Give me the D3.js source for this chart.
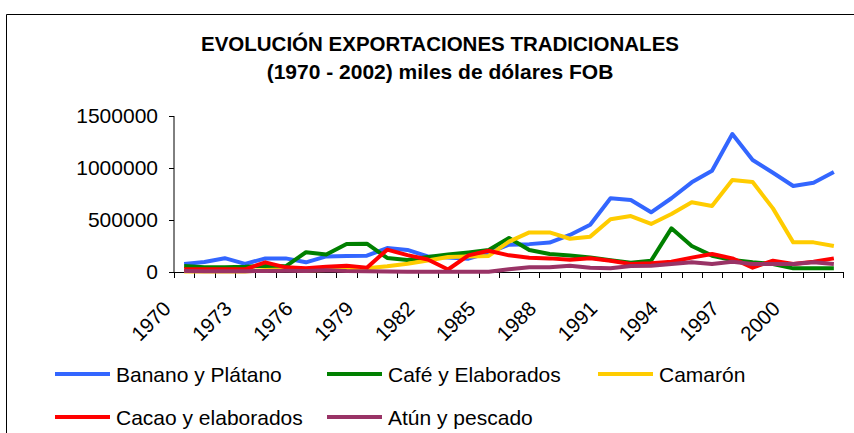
<!DOCTYPE html>
<html>
<head>
<meta charset="utf-8">
<script src="https://cdn.jsdelivr.net/npm/d3@7"></script>
<style>
  body { margin: 0; background: #fff; }
  svg { font-family: "Liberation Sans", Arial, sans-serif; }
  .axis path, .axis line { stroke: #000; }
</style>
</head>
<body>
<svg width="854" height="433"></svg>
<script>
const years = ['1970','1971','1972','1973','1974','1975','1976','1977','1978','1979','1980',
  '1981','1982','1983','1984','1985','1986','1987','1988','1989','1990','1991','1992',
  '1993','1994','1995','1996','1997','1998','1999','2000','2001','2002'];
const yearLabels = ['1970','1973','1976','1979','1982','1985','1988','1991','1994','1997','2000'];
const yTicks = [0, 500000, 1000000, 1500000];

// miles de dólares FOB
const banano = [77000,97000,133000,78000,131000,131000,93000,150000,155000,157000,230000,
  212000,150000,140000,128000,185000,263000,268000,283000,356000,455000,709000,692000,
  574000,709000,862000,974000,1327000,1077000,955000,827000,859000,962000];
const cafe = [58000,45000,45000,50000,60000,55000,190000,168000,270000,272000,135000,
  115000,145000,168000,188000,212000,326000,212000,173000,158000,140000,113000,90000,
  109000,420000,250000,157000,115000,93000,77000,35000,35000,35000];
const camaron = [5000,5000,5000,5000,20000,25000,15000,20000,26000,35000,55000,
  80000,110000,145000,150000,155000,292000,381000,381000,320000,340000,508000,538000,
  462000,558000,670000,635000,885000,865000,612000,285000,285000,250000];
const cacao = [26000,26000,26000,26000,93000,45000,35000,51000,61000,42000,215000,
  162000,120000,24000,160000,205000,160000,136000,131000,118000,133000,109000,77000,
  83000,99000,138000,173000,131000,42000,109000,77000,99000,131000];
const atun = [10000,8000,8000,8000,10000,12000,10000,18000,10000,8000,5000,
  3000,3000,3000,3000,3000,26000,45000,45000,61000,40000,35000,58000,
  61000,77000,93000,77000,99000,77000,77000,77000,93000,77000];

const seriesNames = ['Banano y Plátano', 'Café y Elaborados', 'Camarón', 'Cacao y elaborados', 'Atún y pescado'];
const seriesValues = [banano, cafe, camaron, cacao, atun];
const colors = ['#3366ff', '#008000', '#ffcc00', '#ff0000', '#993366'];

const PLOT = { left: 174, right: 844, top: 116, bottom: 272 };

const svg = d3.select('svg');

// borde del gráfico
svg.append('path')
  .attr('d', 'M6.5,433 V14.5 H854')
  .attr('fill', 'none')
  .attr('stroke', '#000');

svg.append('text')
  .attr('x', 440).attr('y', 51)
  .attr('text-anchor', 'middle')
  .attr('font-size', 20.5).attr('font-weight', 'bold')
  .text('EVOLUCIÓN EXPORTACIONES TRADICIONALES');

svg.append('text')
  .attr('x', 440).attr('y', 79)
  .attr('text-anchor', 'middle')
  .attr('font-size', 21).attr('font-weight', 'bold')
  .text('(1970 - 2002) miles de dólares FOB');

const x = d3.scaleBand().domain(years).range([PLOT.left, PLOT.right]);
const y = d3.scaleLinear().domain([0, 1500000]).range([PLOT.bottom, PLOT.top]);
const cx = d => x(d) + x.bandwidth() / 2;

const yAxis = d3.axisLeft(y)
  .tickValues(yTicks)
  .tickFormat(d3.format('d'))
  .tickSize(5)
  .tickPadding(11);

svg.append('g')
  .attr('class', 'y axis')
  .attr('transform', `translate(${PLOT.left},0)`)
  .call(yAxis)
  .call(g => g.selectAll('text').attr('font-size', 21).attr('fill', '#000'))
  .call(g => g.select('.domain').attr('d', `M0,${PLOT.top}V${PLOT.bottom}`));

// eje x: marcas entre categorías
const xg = svg.append('g').attr('class', 'x axis');
xg.append('line')
  .attr('x1', PLOT.left).attr('x2', PLOT.right)
  .attr('y1', PLOT.bottom + 0.5).attr('y2', PLOT.bottom + 0.5)
  .attr('stroke', '#000');
xg.selectAll('.tick')
  .data(years.concat(['end']))
  .join('line')
  .attr('class', 'tick')
  .attr('x1', d => d === 'end' ? PLOT.right - 0.5 : Math.round(x(d)) + 0.5)
  .attr('x2', d => d === 'end' ? PLOT.right - 0.5 : Math.round(x(d)) + 0.5)
  .attr('y1', PLOT.bottom)
  .attr('y2', PLOT.bottom + 6)
  .attr('stroke', '#666');

xg.selectAll('.lbl')
  .data(yearLabels)
  .join('text')
  .attr('class', 'lbl')
  .attr('text-anchor', 'end')
  .attr('font-size', 20.5)
  .attr('transform', d => `translate(${cx(d) - 12},${PLOT.bottom + 38}) rotate(-45)`)
  .text(d => d);

const line = d3.line()
  .x((v, i) => cx(years[i]))
  .y(v => y(v));

svg.append('g')
  .selectAll('path')
  .data(seriesValues)
  .join('path')
  .attr('d', d => line(d))
  .attr('fill', 'none')
  .attr('stroke', (d, i) => colors[i])
  .attr('stroke-width', 4)
  .attr('stroke-linejoin', 'round');

// leyenda
const legendPos = [
  { x: 55, y: 374 }, { x: 327, y: 374 }, { x: 598, y: 374 },
  { x: 55, y: 417 }, { x: 327, y: 417 }
];
const lg = svg.append('g').selectAll('g')
  .data(seriesNames)
  .join('g')
  .attr('transform', (d, i) => `translate(${legendPos[i].x},${legendPos[i].y})`);
lg.append('line')
  .attr('x1', 0).attr('x2', 55)
  .attr('stroke', (d, i) => colors[i])
  .attr('stroke-width', 4);
lg.append('text')
  .attr('x', 61).attr('y', 7.5)
  .attr('font-size', 21)
  .text(d => d);
</script>
</body>
</html>
